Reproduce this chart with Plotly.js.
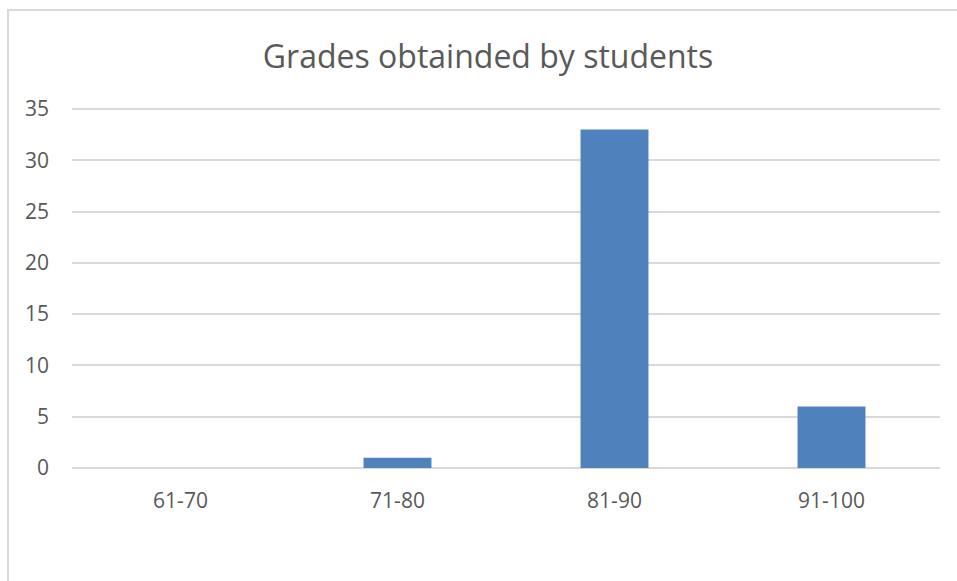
<!DOCTYPE html>
<html>
<head>
<meta charset="utf-8">
<script src="https://cdn.plot.ly/plotly-3.0.1.min.js"></script>
<style>
html,body{margin:0;padding:0;background:#fff;overflow:hidden;}
#chart{position:absolute;left:0;top:0;width:957px;height:581px;}
#frame{position:absolute;left:7px;top:9px;width:1000px;height:1000px;border:2px solid #d9d9d9;pointer-events:none;}
</style>
</head>
<body>
<div id="chart"></div>
<div id="frame"></div>
<script>
const categories = ["61-70", "71-80", "81-90", "91-100"];
const counts = [0, 1, 33, 6];
const yTicks = [0, 5, 10, 15, 20, 25, 30, 35];
const chartTitle = "Grades obtainded by students";

const textColor = "#595959";
const fontFam = "Open Sans, Noto Sans, sans-serif";

Plotly.newPlot("chart", [{
  type: "bar",
  x: categories,
  y: counts,
  marker: {color: "#4F81BD"},
  hoverinfo: "x+y"
}], {
  width: 957, height: 581,
  margin: {l: 72, r: 17, t: 105, b: 109},
  paper_bgcolor: "rgba(0,0,0,0)",
  plot_bgcolor: "rgba(0,0,0,0)",
  bargap: 0.687,
  showlegend: false,
  title: {
    text: chartTitle,
    font: {family: fontFam, size: 32, color: textColor},
    x: 0.51, xanchor: "center",
    y: 0.902, yanchor: "middle", yref: "container"
  },
  xaxis: {
    type: "category",
    showgrid: false,
    zeroline: false,
    showline: false,
    ticks: "",
    ticklabelstandoff: 14,
    tickfont: {family: fontFam, size: 21, color: textColor}
  },
  yaxis: {
    range: [-0.4, 35.4],
    tickvals: yTicks,
    ticktext: yTicks.map(String),
    showgrid: true,
    gridcolor: "#d9d9d9",
    gridwidth: 1.5,
    zeroline: false,
    showline: false,
    ticks: "",
    ticklabelstandoff: 22,
    tickfont: {family: fontFam, size: 21, color: textColor}
  }
}, {displayModeBar: false, staticPlot: false});
</script>
</body>
</html>
